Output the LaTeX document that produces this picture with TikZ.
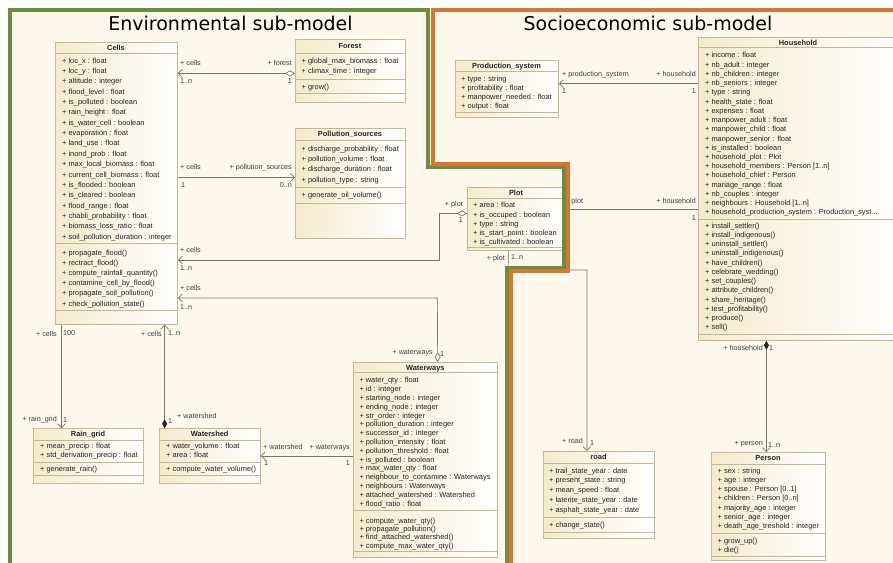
\documentclass[tikz,border=0pt]{standalone}
\usepackage{fontspec}
\setmainfont{Liberation Sans}
\newfontfamily\headfont{DejaVu Sans}
\usetikzlibrary{arrows.meta}

\definecolor{bgcream}{RGB}{253,248,235}
\definecolor{boxline}{RGB}{196,182,150}
\definecolor{boxleft}{RGB}{245,234,204}
\definecolor{textgray}{RGB}{35,35,35}
\definecolor{lblgray}{RGB}{60,60,60}
\definecolor{conngray}{RGB}{125,118,100}
\definecolor{envgreen}{RGB}{110,140,62}
\definecolor{socorange}{RGB}{214,118,48}

\tikzset{
  classbox/.style={draw=boxline, line width=0.8pt, left color=boxleft, right color=white, anchor=north west, inner sep=0pt},
  classname/.style={anchor=base, inner sep=0pt, text=textgray, font=\fontsize{7.4}{9}\selectfont\bfseries},
  members/.style={anchor=north west, inner sep=0pt, align=left, text=textgray, font=\fontsize{7.4}{#1}\selectfont},
  sepline/.style={draw=boxline, line width=0.8pt},
  assoc/.style={draw=conngray, line width=0.7pt},
  lbl/.style={inner sep=0pt, text=lblgray, font=\fontsize{7.2}{8}\selectfont},
  nav/.tip={Straight Barb[length=4pt,width=8pt]},
  agg/.tip={Diamond[fill=white,length=10pt,width=6pt]},
  comp/.tip={Diamond[color=black!85,length=9pt,width=5pt]},
  envframe/.style={draw=envgreen, line width=3.5pt},
  socframe/.style={draw=socorange, line width=3.5pt}
}

\begin{document}
\begin{tikzpicture}[x=1pt,y=-1pt]
\useasboundingbox (0,0) rectangle (893,562);
\fill[white] (0,0) rectangle (893,562);
\fill[bgcream] (8,8) rectangle (897,566);

\node[anchor=base, text=black, font=\headfont\fontsize{19}{22}\selectfont] (envtitle) at (230.5,30.7) {Environmental sub-model};
\node[anchor=base, text=black, font=\headfont\fontsize{19}{22}\selectfont] (soctitle) at (648,30.7) {Socioeconomic sub-model};

% Cells
\node[classbox, minimum width=122pt, minimum height=282pt] (cells) at (55,42) {};
\node[classname] (cells-name) at (116,50.2) {Cells};
\draw[sepline] (55,53) -- (177,53);
\draw[sepline] (55,243) -- (177,243);
\draw[sepline] (55,310) -- (177,310);
\node[members=10.35] (cells-attr) at (62,57.6) {+ loc\_x : float\\+ loc\_y : float\\+ altitude : integer\\+ flood\_level : float\\+ is\_polluted : boolean\\+ rain\_height : float\\+ is\_water\_cell : boolean\\+ evaporation : float\\+ land\_use : float\\+ inond\_prob : float\\+ max\_local\_biomass : float\\+ current\_cell\_biomass : float\\+ is\_flooded : boolean\\+ is\_cleared : boolean\\+ flood\_range : float\\+ chabli\_probability : float\\+ biomass\_loss\_ratio : float\\+ soil\_pollution\_duration : integer};
\node[members=10.2] (cells-ops) at (62,249.6) {+ propagate\_flood()\\+ rectract\_flood()\\+ compute\_rainfall\_quantity()\\+ contamine\_cell\_by\_flood()\\+ propagate\_soil\_pollution()\\+ check\_pollution\_state()};

% Forest
\node[classbox, minimum width=110pt, minimum height=63pt] (forest) at (295,39) {};
\node[classname] (forest-name) at (350,48.7) {Forest};
\draw[sepline] (295,53) -- (405,53);
\draw[sepline] (295,79) -- (405,79);
\draw[sepline] (295,93) -- (405,93);
\node[members=10] (forest-attr) at (301.5,57.6) {+ global\_max\_biomass : float\\+ climax\_time : integer};
\node[members=10] (forest-ops) at (301.5,83.6) {+ grow()};

% Pollution_sources
\node[classbox, minimum width=110pt, minimum height=110pt] (pollution) at (295,128) {};
\node[classname] (pollution-name) at (350,136.7) {Pollution\_sources};
\draw[sepline] (295,140) -- (405,140);
\draw[sepline] (295,187) -- (405,187);
\draw[sepline] (295,203) -- (405,203);
\node[members=10.3] (pollution-attr) at (301.5,145.6) {+ discharge\_probability : float\\+ pollution\_volume : float\\+ discharge\_duration : float\\+ pollution\_type : string};
\node[members=10.3] (pollution-ops) at (301.5,191.6) {+ generate\_oil\_volume()};

% Rain_grid
\node[classbox, minimum width=109.4pt, minimum height=54.4pt] (rain) at (33.3,428.3) {};
\node[classname] (rain-name) at (88,436.9) {Rain\_grid};
\draw[sepline] (33.3,440) -- (142.7,440);
\draw[sepline] (33.3,462.3) -- (142.7,462.3);
\draw[sepline] (33.3,475.7) -- (142.7,475.7);
\node[members=9] (rain-attr) at (40,443.3) {+ mean\_precip : float\\+ std\_derivation\_precip : float};
\node[members=9] (rain-ops) at (40,465.9) {+ generate\_rain()};

% Watershed
\node[classbox, minimum width=100.7pt, minimum height=54.4pt] (watershed) at (159.3,428.3) {};
\node[classname] (watershed-name) at (209.7,436.9) {Watershed};
\draw[sepline] (159.3,440) -- (260,440);
\draw[sepline] (159.3,462.3) -- (260,462.3);
\draw[sepline] (159.3,475.7) -- (260,475.7);
\node[members=9] (watershed-attr) at (166,443.3) {+ water\_volume : float\\+ area : float};
\node[members=9] (watershed-ops) at (166,465.9) {+ compute\_water\_volume()};

% Waterways
\node[classbox, minimum width=144pt, minimum height=194.7pt] (waterways) at (353.3,362) {};
\node[classname] (waterways-name) at (425.3,370) {Waterways};
\draw[sepline] (353.3,372.7) -- (497.3,372.7);
\draw[sepline] (353.3,510) -- (497.3,510);
\draw[sepline] (353.3,551.7) -- (497.3,551.7);
\node[members=8.8] (waterways-attr) at (359.3,377.3) {+ water\_qty : float\\+ id : integer\\+ starting\_node : integer\\+ ending\_node : integer\\+ str\_order : integer\\+ pollution\_duration : integer\\+ successor\_id : integer\\+ pollution\_intensity : float\\+ pollution\_threshold : float\\+ is\_polluted : boolean\\+ max\_water\_qty : float\\+ neighbour\_to\_contamine : Waterways\\+ neighbours : Waterways\\+ attached\_watershed : Watershed\\+ flood\_ratio : float};
\node[members=8.35] (waterways-ops) at (359.3,517.6) {+ compute\_water\_qty()\\+ propagate\_pollution()\\+ find\_attached\_watershed()\\+ compute\_max\_water\_qty()};

% Production_system
\node[classbox, minimum width=103pt, minimum height=57pt] (prodsys) at (455,60) {};
\node[classname] (prodsys-name) at (506.5,68.2) {Production\_system};
\draw[sepline] (455,71) -- (558,71);
\draw[sepline] (455,112) -- (558,112);
\node[members=9.1] (prodsys-attr) at (461,75.9) {+ type : string\\+ profitability : float\\+ manpower\_needed : float\\+ output : float};

% Plot
\node[classbox, minimum width=98pt, minimum height=63pt] (plot) at (467,187) {};
\node[classname] (plot-name) at (516,195.4) {Plot};
\draw[sepline] (467,198.3) -- (565,198.3);
\draw[sepline] (467,247) -- (565,247);
\node[members=9.25] (plot-attr) at (473,202.3) {+ area : float\\+ is\_occuped : boolean\\+ type : string\\+ is\_start\_point : boolean\\+ is\_cultivated : boolean};

% Household
\node[classbox, minimum width=200pt, minimum height=303pt] (household) at (698,37) {};
\node[classname] (household-name) at (798,45) {Household};
\draw[sepline] (698,47.7) -- (898,47.7);
\draw[sepline] (698,219.3) -- (898,219.3);
\draw[sepline] (698,334) -- (898,334);
\node[members=9.24] (household-attr) at (705,52.3) {+ income : float\\+ nb\_adult : integer\\+ nb\_children : integer\\+ nb\_seniors : integer\\+ type : string\\+ health\_state : float\\+ expenses : float\\+ manpower\_adult : float\\+ manpower\_child : float\\+ manpower\_senior : float\\+ is\_installed : boolean\\+ household\_plot : Plot\\+ household\_members : Person [1..n]\\+ household\_chief : Person\\+ mariage\_range : float\\+ nb\_couples : integer\\+ neighbours : Household [1..n]\\+ household\_production\_system : Production\_syst...};
\node[members=9.25] (household-ops) at (705,222.6) {+ install\_settler()\\+ install\_indigenous()\\+ uninstall\_settler()\\+ uninstall\_indigenous()\\+ have\_children()\\+ celebrate\_wedding()\\+ set\_couples()\\+ attribute\_children()\\+ share\_heritage()\\+ test\_profitability()\\+ produce()\\+ sell()};

% road
\node[classbox, minimum width=111pt, minimum height=87.3pt] (road) at (543,451) {};
\node[classname] (road-name) at (598.5,459.9) {road};
\draw[sepline] (543,463.3) -- (654,463.3);
\draw[sepline] (543,517.7) -- (654,517.7);
\draw[sepline] (543,532.7) -- (654,532.7);
\node[members=9.8] (road-attr) at (549,467.6) {+ trail\_state\_year : date\\+ present\_state : string\\+ mean\_speed : float\\+ laterite\_state\_year : date\\+ asphalt\_state\_year : date};
\node[members=9.8] (road-ops) at (549,521.6) {+ change\_state()};

% Person
\node[classbox, minimum width=114pt, minimum height=108pt] (person) at (711,452) {};
\node[classname] (person-name) at (768,460.7) {Person};
\draw[sepline] (711,464) -- (825,464);
\draw[sepline] (711,533.3) -- (825,533.3);
\draw[sepline] (711,556) -- (825,556);
\node[members=9.22] (person-attr) at (717.5,467.6) {+ sex : string\\+ age : integer\\+ spouse : Person [0..1]\\+ children : Person [0..n]\\+ majority\_age : integer\\+ senior\_age : integer\\+ death\_age\_treshold : integer};
\node[members=9] (person-ops) at (717.5,537.6) {+ grow\_up()\\+ die()};

% connectors
\coordinate (plotbend) at (439,260);
\coordinate (wwbend) at (437.3,298);
\coordinate (roadbend) at (508,270);

\draw[assoc, nav-agg] ([yshift=-2.5pt]cells.east |- forest.west) -- ([yshift=-2.5pt]forest.west);
\draw[assoc, -nav] ([yshift=6pt]cells.east |- pollution.west) -- ([yshift=6pt]pollution.west);
\draw[assoc, agg-nav] ([yshift=5.5pt]plot.west) -| (plotbend) -- (cells.east |- plotbend);
\draw[assoc, agg-nav] ([xshift=12pt]waterways.north) -- (wwbend) -- (cells.east |- wwbend);
\draw[assoc, -nav] ([xshift=-27pt]rain.north |- cells.south) -- ([xshift=-27pt]rain.north);
\draw[assoc, nav-comp] ([xshift=-45.4pt]watershed.north |- cells.south) -- ([xshift=-45.4pt]watershed.north);
\draw[assoc, nav-] (watershed.east) -- (waterways.west |- watershed.east);
\draw[assoc, nav-] ([yshift=5.2pt]prodsys.east) -- ([yshift=5.2pt]household.west |- prodsys.east);
\draw[assoc] ([yshift=9.2pt]plot.east) -- ([yshift=9.2pt]household.west |- plot.east);
\draw[assoc, -nav] ([xshift=-8pt]plot.south) -- (roadbend) -| ([xshift=-12pt]road.north);
\draw[assoc, comp-nav] ([xshift=-2pt]person.north |- household.south) -- ([xshift=-2pt]person.north);

% labels
\node[lbl, anchor=base west] (l1) at (180,65.5) {+ cells};
\node[lbl, anchor=base west] (l2) at (180,83) {1..n};
\node[lbl, anchor=base east] (l3) at (292,65.5) {+ forest};
\node[lbl, anchor=base east] (l4) at (292,83) {1};
\node[lbl, anchor=base west] (l5) at (180,169) {+ cells};
\node[lbl, anchor=base west] (l6) at (181,187) {1};
\node[lbl, anchor=base east] (l7) at (292,169) {+ pollution\_sources};
\node[lbl, anchor=base east] (l8) at (292,187) {0..n};
\node[lbl, anchor=base west] (l9) at (180,252) {+ cells};
\node[lbl, anchor=base west] (l10) at (180,270) {1..n};
\node[lbl, anchor=base east] (l11) at (463,206) {+ plot};
\node[lbl, anchor=base east] (l12) at (463,222) {1};
\node[lbl, anchor=base west] (l13) at (180,290.5) {+ cells};
\node[lbl, anchor=base west] (l14) at (180,309) {1..n};
\node[lbl, anchor=base east] (l15) at (433,354.5) {+ waterways};
\node[lbl, anchor=base west] (l16) at (440,356) {1};
\node[lbl, anchor=base east] (l17) at (57,336) {+ cells};
\node[lbl, anchor=base west] (l18) at (63,335) {100};
\node[lbl, anchor=base east] (l19) at (57,421) {+ rain\_grid};
\node[lbl, anchor=base west] (l20) at (63,422.5) {1};
\node[lbl, anchor=base east] (l21) at (162,336) {+ cells};
\node[lbl, anchor=base west] (l22) at (168,335) {1..n};
\node[lbl, anchor=base west] (l23) at (177,418) {+ watershed};
\node[lbl, anchor=base west] (l24) at (168,423.5) {1};
\node[lbl, anchor=base west] (l25) at (263,449) {+ watershed};
\node[lbl, anchor=base west] (l26) at (264,465) {1};
\node[lbl, anchor=base east] (l27) at (350,449) {+ waterways};
\node[lbl, anchor=base east] (l28) at (350,465) {1};
\node[lbl, anchor=base west] (l29) at (562,76) {+ production\_system};
\node[lbl, anchor=base west] (l30) at (562,93) {1};
\node[lbl, anchor=base east] (l31) at (696,76) {+ household};
\node[lbl, anchor=base east] (l32) at (696,93) {1};
\node[lbl, anchor=base west] (l33) at (565,203) {+ plot};
\node[lbl, anchor=base east] (l34) at (696,203) {+ household};
\node[lbl, anchor=base east] (l35) at (696,220) {1};
\node[lbl, anchor=base east] (l36) at (505,260) {+ plot};
\node[lbl, anchor=base west] (l37) at (511,259) {1..n};
\node[lbl, anchor=base east] (l38) at (583,443) {+ road};
\node[lbl, anchor=base west] (l39) at (590,445) {1};
\node[lbl, anchor=base east] (l40) at (763,350) {+ household};
\node[lbl, anchor=base west] (l41) at (769,350) {1};
\node[lbl, anchor=base east] (l42) at (763,445) {+ person};
\node[lbl, anchor=base west] (l43) at (768,447) {1..n};

% sub-model frames
\draw[envframe] (10,10) -- (428,10) -- (428,167) -- (564,167) -- (564,268) -- (507,268) -- (507,566) -- (10,566) -- cycle;
\draw[socframe] (433,10) -- (897,10) -- (897,566) -- (511,566) -- (511,271) -- (568,271) -- (568,164) -- (433,164) -- cycle;
\end{tikzpicture}
\end{document}
